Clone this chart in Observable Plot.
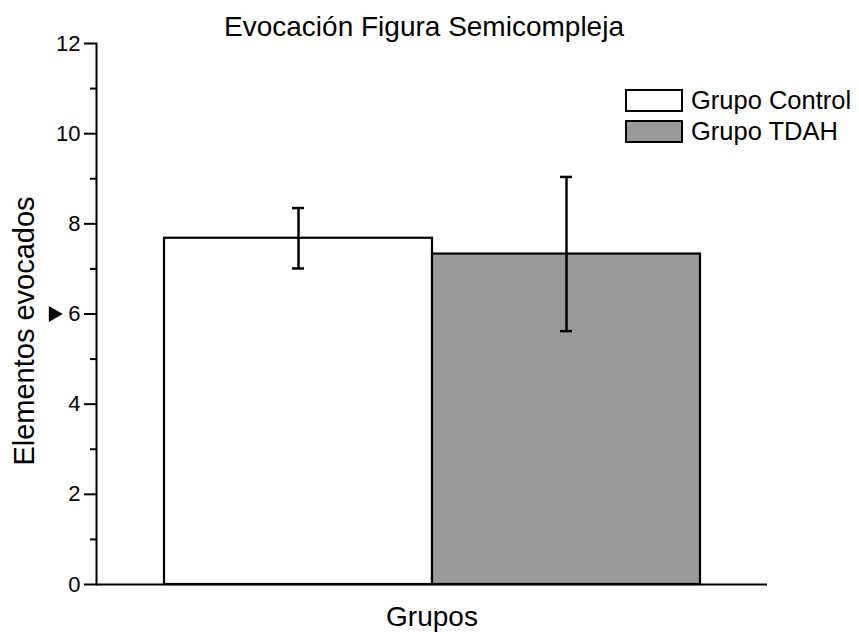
<!DOCTYPE html>
<html>
<head>
<meta charset="utf-8">
<script src="https://cdn.jsdelivr.net/npm/d3@7"></script>
<script src="https://cdn.jsdelivr.net/npm/@observablehq/plot@0.6"></script>
<style>
  html, body { margin: 0; padding: 0; background: #fff; }
  body { width: 859px; height: 632px; position: relative; overflow: hidden; color: #000;
         font-family: "Liberation Sans", Arial, sans-serif; }
  #legend { position: absolute; left: 625px; top: 89px; }
  .item { display: flex; align-items: center; height: 23px; margin-bottom: 8px; }
  .sw { width: 58px; height: 23px; box-sizing: border-box; border: 2px solid #000; }
  .lab { margin-left: 8px; font-size: 25.5px; line-height: 23px; }
</style>
</head>
<body>
<div id="chart"></div>
<div id="legend"></div>
<script>
const title = "Evocación Figura Semicompleja";
const xLabel = "Grupos";
const yLabel = "Elementos evocados";
const groups = ["Grupo Control", "Grupo TDAH"];
const means = [7.68, 7.33];
const errors = [0.67, 1.71];
const fills = ["#ffffff", "#999999"];
const yTicks = [0, 2, 4, 6, 8, 10, 12];
const yMinorTicks = [1, 3, 5, 7, 9, 11];
const markerValue = [6];

const data = groups.map((g, i) => ({group: g, mean: means[i], err: errors[i], fill: fills[i]}));

const chart = Plot.plot({
  width: 859,
  height: 632,
  marginLeft: 96,
  marginRight: 92,
  marginTop: 43,
  marginBottom: 48,
  style: {fontFamily: "'Liberation Sans', Arial, sans-serif", color: "#000", background: "#fff", overflow: "visible"},
  x: {domain: groups, paddingInner: 0, paddingOuter: 0.25, axis: null},
  y: {domain: [0, 12], axis: null},
  marks: [
    Plot.barY(data, {x: "group", y: "mean", fill: "fill", stroke: "#000", strokeWidth: 2.2}),
    Plot.ruleX(data, {x: "group", y1: d => d.mean - d.err, y2: d => d.mean + d.err, stroke: "#000", strokeWidth: 2.5}),
    Plot.tickY(data, {x: "group", y: d => d.mean + d.err, insetLeft: 128, insetRight: 128, stroke: "#000", strokeWidth: 2.5}),
    Plot.tickY(data, {x: "group", y: d => d.mean - d.err, insetLeft: 128, insetRight: 128, stroke: "#000", strokeWidth: 2.5}),
    Plot.ruleY([0], {stroke: "#000", strokeWidth: 2}),
    Plot.frame({anchor: "left", stroke: "#000", strokeWidth: 2}),
    Plot.axisY({ticks: yTicks, tickSize: 12, tickPadding: 4, text: null, label: null, strokeWidth: 2}),
    Plot.text(yTicks, {y: d => d, text: d => String(d), frameAnchor: "left", dx: -16, textAnchor: "end", lineAnchor: "middle", fontSize: 22, fill: "#000"}),
    Plot.axisY({ticks: yMinorTicks, tickSize: 6, text: null, label: null, strokeWidth: 2}),
    Plot.dot(markerValue, {y: d => d, frameAnchor: "left", dx: -43, symbol: "triangle", rotate: 90, r: 6, fill: "#000", stroke: null}),
    Plot.text([title], {frameAnchor: "top", dx: -8, dy: -16, fontSize: 28, lineAnchor: "middle", fill: "#000"}),
    Plot.text([xLabel], {frameAnchor: "bottom", dy: 33, fontSize: 28, lineAnchor: "middle", fill: "#000"}),
    Plot.text([yLabel], {frameAnchor: "left", dx: -72, dy: 17, rotate: -90, textAnchor: "middle", fontSize: 29, lineAnchor: "middle", fill: "#000"})
  ]
});
document.getElementById("chart").appendChild(chart);

const legend = document.getElementById("legend");
groups.forEach((g, i) => {
  const item = document.createElement("div");
  item.className = "item";
  const sw = document.createElement("div");
  sw.className = "sw";
  sw.style.background = fills[i];
  const lab = document.createElement("span");
  lab.className = "lab";
  lab.textContent = g;
  item.appendChild(sw);
  item.appendChild(lab);
  legend.appendChild(item);
});
</script>
</body>
</html>
